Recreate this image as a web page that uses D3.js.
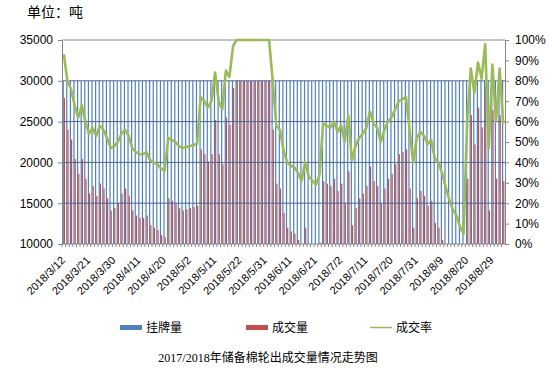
<!DOCTYPE html>
<html>
<head>
<meta charset="utf-8">
<script src="https://cdn.jsdelivr.net/npm/d3@7"></script>
<style>
  body { margin: 0; background: #fff; }
  svg { display: block; }
  text { font-family: "Liberation Sans", Arial, "Noto Sans CJK SC", sans-serif; fill: #000; }
</style>
</head>
<body>
<div id="chart"></div>
<script>
// trading days (categories)
const categories = [
  "2018/3/12","2018/3/13","2018/3/14","2018/3/15","2018/3/16","2018/3/19","2018/3/20","2018/3/21","2018/3/22","2018/3/23",
  "2018/3/26","2018/3/27","2018/3/28","2018/3/29","2018/3/30","2018/4/2","2018/4/3","2018/4/4","2018/4/8","2018/4/9",
  "2018/4/10","2018/4/11","2018/4/12","2018/4/13","2018/4/16","2018/4/17","2018/4/18","2018/4/19","2018/4/20","2018/4/23",
  "2018/4/24","2018/4/25","2018/4/26","2018/4/27","2018/4/28","2018/5/2","2018/5/3","2018/5/4","2018/5/7","2018/5/8",
  "2018/5/9","2018/5/10","2018/5/11","2018/5/14","2018/5/15","2018/5/16","2018/5/17","2018/5/18","2018/5/21","2018/5/22",
  "2018/5/23","2018/5/24","2018/5/25","2018/5/28","2018/5/29","2018/5/30","2018/5/31","2018/6/1","2018/6/4","2018/6/5",
  "2018/6/6","2018/6/7","2018/6/8","2018/6/11","2018/6/12","2018/6/13","2018/6/14","2018/6/15","2018/6/19","2018/6/20",
  "2018/6/21","2018/6/22","2018/6/25","2018/6/26","2018/6/27","2018/6/28","2018/6/29","2018/7/2","2018/7/3","2018/7/4",
  "2018/7/5","2018/7/6","2018/7/9","2018/7/10","2018/7/11","2018/7/12","2018/7/13","2018/7/16","2018/7/17","2018/7/18",
  "2018/7/19","2018/7/20","2018/7/23","2018/7/24","2018/7/25","2018/7/26","2018/7/27","2018/7/30","2018/7/31","2018/8/1",
  "2018/8/2","2018/8/3","2018/8/6","2018/8/7","2018/8/8","2018/8/9","2018/8/10","2018/8/13","2018/8/14","2018/8/15",
  "2018/8/16","2018/8/17","2018/8/20","2018/8/21","2018/8/22","2018/8/23","2018/8/24","2018/8/27","2018/8/28","2018/8/29",
  "2018/8/30","2018/8/31","2018/9/3"
];

const tickLabels = ["2018/3/12","2018/3/21","2018/3/30","2018/4/11","2018/4/20","2018/5/2","2018/5/11","2018/5/22","2018/5/31",
  "2018/6/11","2018/6/21","2018/7/2","2018/7/11","2018/7/20","2018/7/31","2018/8/9","2018/8/20","2018/8/29"];

// 挂牌量 (tons)
const listed = [
  30000,30000,30000,30000,30000,30000,30000,30000,30000,30000,
  30000,30000,30000,30000,30000,30000,30000,30000,30000,30000,
  30000,30000,30000,30000,30000,30000,30000,30000,30000,30000,
  30000,30000,30000,30000,30000,30000,30000,30000,30000,30000,
  30000,30000,30000,30000,30000,30000,30000,30000,30000,30000,
  30000,30000,30000,30000,30000,30000,30000,30000,30000,30000,
  30000,30000,30000,30000,30000,30000,30000,30000,30000,30000,
  30000,30000,30000,30000,30000,30000,30000,30000,30000,30000,
  30000,30000,30000,30000,30000,30000,30000,30000,30000,30000,
  30000,30000,30000,30000,30000,30000,30000,30000,30000,30000,
  30000,30000,30000,30000,30000,30000,30000,30000,30000,30000,
  30000,30000,30000,30000,30000,30000,30000,30000,30000,30000,
  30000,30000,30000
];

// 成交量 (tons)
const deals = [
  27900,24000,22800,20400,18600,20400,18000,16200,17100,15900,
  17400,16800,15600,14100,14400,15000,16200,16800,15900,14100,
  13500,13200,13200,13500,12300,12000,11700,11100,10800,15600,
  15300,15000,14400,14100,14250,14400,14550,14700,21600,21000,
  20100,21000,25200,21000,19800,25500,24600,29100,30000,30000,
  30000,30000,30000,30000,30000,30000,30000,30000,24000,17400,
  16800,13800,12000,11550,11250,10500,9300,12000,9900,9300,
  8700,10200,17700,17400,17100,18000,16500,17400,15000,18900,
  12300,14400,15600,16200,17100,19500,17700,17100,15000,16800,
  18000,18600,19800,21000,21300,21600,16800,12000,15600,16500,
  15900,14700,15300,12600,12000,10500,8400,6600,5100,4200,
  2550,1500,18000,25800,22200,26700,24300,29400,14100,26400,
  18000,25800,17700
];

// 成交率 (%)
const rates = [
  93,80,76,68,62,68,60,54,57,53,
  58,56,52,47,48,50,54,56,53,47,
  45,44,44,45,41,40,39,37,36,52,
  51,50,48,47,47.5,48,48.5,49,72,70,
  67,70,84,70,66,85,82,97,100,100,
  100,100,100,100,100,100,100,100,80,58,
  56,46,40,38.5,37.5,35,31,40,33,31,
  29,34,59,58,57,60,55,58,50,63,
  41,48,52,54,57,65,59,57,50,56,
  60,62,66,70,71,72,56,40,52,55,
  53,49,51,42,40,35,28,22,17,14,
  8.5,5,60,86,74,89,81,98,47,88,
  60,86,59
];

const leftTicks = [10000, 15000, 20000, 25000, 30000, 35000];
const rightTicks = [0, 10, 20, 30, 40, 50, 60, 70, 80, 90, 100];

const width = 554, height = 373;
const plotLeft = 62, plotRight = 505, plotTop = 40, plotBottom = 244;
const axisColor = "#868686";

const svg = d3.select("#chart").append("svg")
  .attr("width", width)
  .attr("height", height);

const x = d3.scaleBand().domain(categories).range([plotLeft, plotRight]).padding(0);
const xs = d3.scaleBand().domain(["listed", "deal"]).range([0, x.bandwidth()])
  .paddingInner(0).paddingOuter(0.5);
const y = d3.scaleLinear().domain([10000, 35000]).range([plotBottom, plotTop]);
const yr = d3.scaleLinear().domain([0, 100]).range([plotBottom, plotTop]);

// unit label
svg.append("text")
  .attr("x", 27).attr("y", 17)
  .style("font-size", "14px")
  .text("单位：吨");

// top gridline
svg.append("line")
  .attr("x1", plotLeft).attr("x2", plotRight)
  .attr("y1", y(35000)).attr("y2", y(35000))
  .attr("stroke", axisColor);

// bars
const rows = categories.map((c, i) => ({ c, listed: listed[i], deal: deals[i], rate: rates[i] }));
const bars = svg.append("g");
bars.selectAll("rect.listed")
  .data(rows).enter().append("rect")
  .attr("class", "listed")
  .attr("x", d => x(d.c) + xs("listed"))
  .attr("width", xs.bandwidth())
  .attr("y", d => y(Math.max(d.listed, 10000)))
  .attr("height", d => y(10000) - y(Math.max(d.listed, 10000)))
  .attr("fill", "#4F81BD");
bars.selectAll("rect.deal")
  .data(rows).enter().append("rect")
  .attr("class", "deal")
  .attr("x", d => x(d.c) + xs("deal"))
  .attr("width", xs.bandwidth())
  .attr("y", d => y(Math.max(d.deal, 10000)))
  .attr("height", d => y(10000) - y(Math.max(d.deal, 10000)))
  .attr("fill", "#C0504D");

// inner gridlines (show through the dense bars)
svg.append("g").selectAll("line")
  .data([15000, 20000, 25000, 30000])
  .enter().append("line")
  .attr("x1", plotLeft).attr("x2", plotRight)
  .attr("y1", d => y(d)).attr("y2", d => y(d))
  .attr("stroke", "#4a6696").attr("stroke-width", 1);

// rate line
const line = d3.line()
  .x(d => x(d.c) + x.bandwidth() / 2)
  .y(d => yr(d.rate));
svg.append("path")
  .datum(rows)
  .attr("d", line)
  .attr("fill", "none")
  .attr("stroke", "#9BBB59")
  .attr("stroke-width", 2.6)
  .attr("stroke-linejoin", "round");

// left axis
const gl = svg.append("g")
  .attr("transform", `translate(${plotLeft},0)`)
  .call(d3.axisLeft(y).tickValues(leftTicks).tickSize(4).tickSizeOuter(0).tickPadding(5).tickFormat(d3.format("d")));
gl.select(".domain").attr("stroke", axisColor);
gl.selectAll(".tick line").attr("stroke", axisColor);
gl.selectAll("text").style("font-size", "12px").attr("fill", "#000");

// right axis
const gr = svg.append("g")
  .attr("transform", `translate(${plotRight},0)`)
  .call(d3.axisRight(yr).tickValues(rightTicks).tickSize(4).tickSizeOuter(0).tickPadding(6).tickFormat(d => d + "%"));
gr.select(".domain").attr("stroke", axisColor);
gr.selectAll(".tick line").attr("stroke", axisColor);
gr.selectAll("text").style("font-size", "12px").attr("fill", "#000");

// bottom axis
svg.append("line")
  .attr("x1", plotLeft).attr("x2", plotRight)
  .attr("y1", plotBottom).attr("y2", plotBottom)
  .attr("stroke", axisColor);
svg.append("g").selectAll("line")
  .data(categories).enter().append("line")
  .attr("x1", d => x(d)).attr("x2", d => x(d))
  .attr("y1", plotBottom).attr("y2", plotBottom + 3)
  .attr("stroke", axisColor);

svg.append("g").selectAll("text")
  .data(tickLabels).enter().append("text")
  .attr("text-anchor", "end")
  .attr("transform", d => `translate(${x(d) + x.bandwidth() / 2 + 2},${plotBottom + 17}) rotate(-45)`)
  .style("font-size", "11px")
  .text(d => d);

// legend
const legend = [
  { name: "挂牌量", color: "#4F81BD", type: "rect", x: 120 },
  { name: "成交量", color: "#C0504D", type: "rect", x: 246 },
  { name: "成交率", color: "#9BBB59", type: "line", x: 370 }
];
const lg = svg.append("g");
legend.forEach(l => {
  if (l.type === "rect") {
    lg.append("rect").attr("x", l.x).attr("y", 325).attr("width", 22).attr("height", 5).attr("fill", l.color);
  } else {
    lg.append("line").attr("x1", l.x).attr("x2", l.x + 22).attr("y1", 327.5).attr("y2", 327.5)
      .attr("stroke", l.color).attr("stroke-width", 1.5);
  }
  lg.append("text").attr("x", l.x + 26).attr("y", 332)
    .style("font-size", "12px").text(l.name);
});

// title
svg.append("text")
  .attr("x", 268).attr("y", 362)
  .attr("text-anchor", "middle")
  .style("font-family", "'Liberation Serif', 'Noto Sans CJK SC', serif")
  .style("font-size", "12px")
  .text("2017/2018年储备棉轮出成交量情况走势图");
</script>
</body>
</html>
